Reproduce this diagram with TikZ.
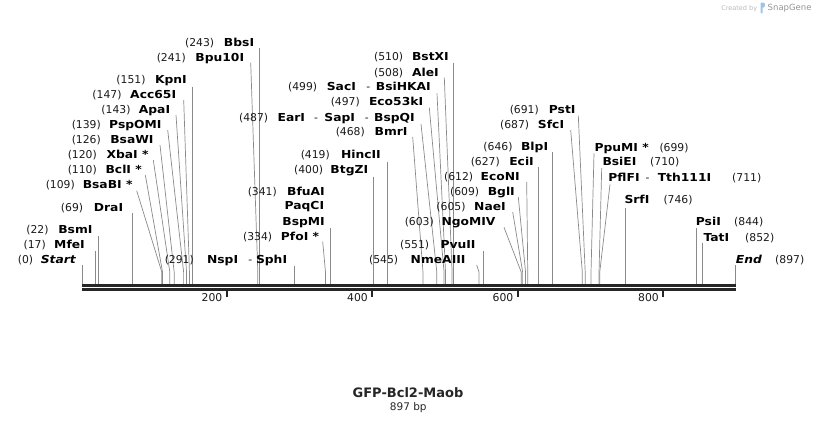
\documentclass[tikz,border=0pt]{standalone}
\usepackage{fontspec}
\setmainfont{DejaVu Sans}
\newfontfamily\namefont[FakeStretch=1.12]{DejaVu Sans}
\newfontfamily\numfont{DejaVu Sans}
\definecolor{siteGray}{HTML}{8A8A8A}
\definecolor{bbColor}{HTML}{262626}
\definecolor{numColor}{HTML}{1A1A1A}
\definecolor{sgBlue}{HTML}{9EC5E8}
\tikzset{
  numlbl/.style={font={\numfont\fontsize{10.8}{12}\selectfont}, text=numColor, inner sep=0pt},
  namelbl/.style={font={\namefont\bfseries\fontsize{11}{13}\selectfont}, text=black, inner sep=0pt},
  endlbl/.style={font={\namefont\bfseries\itshape\fontsize{11}{13}\selectfont}, text=black, inner sep=0pt},
  cutline/.style={draw=siteGray, line width=0.7pt},
  backbone/.style={draw=bbColor, line width=2.8pt},
  ticklne/.style={draw=bbColor, line width=1.8pt},
}
\newcommand\nuE[4]{\node[numlbl,anchor=base east] (#1) at (#2,#3+3.9) {#4};}
\newcommand\nuW[4]{\node[numlbl,anchor=base west] (#1) at (#2,#3+3.9) {#4};}
\newcommand\nuC[4]{\node[numlbl,anchor=base] (#1) at (#2,#3+3.9) {#4};}
\newcommand\nmE[4]{\node[namelbl,anchor=base east] (#1) at (#2,#3+3.9) {#4};}
\newcommand\nmW[4]{\node[namelbl,anchor=base west] (#1) at (#2,#3+3.9) {#4};}
\newcommand\nmC[4]{\node[namelbl,anchor=base] (#1) at (#2,#3+3.9) {#4};}
\newcommand\dsh[3]{\node[numlbl,anchor=base] (#1) at (#2,#3+3.9) {-};}
% slanted connector: id, position, anchor x, anchor y
\newcommand\rsite[4]{%
  \coordinate (s#1) at ({82.5+0.7275*#2},284);
  \coordinate (k#1) at ({82.5+0.7275*#2},272);
  \coordinate (a#1) at (#3,#4);
  \draw[cutline] (a#1) -- (k#1) -- (s#1);}
% vertical connector: id, position, top y
\newcommand\rsiteV[3]{%
  \coordinate (s#1) at ({82.5+0.7275*#2},284);
  \coordinate (a#1) at ({82.5+0.7275*#2},#3);
  \draw[cutline] (a#1) -- (s#1);}
\newcommand\tickmk[2]{%
  \coordinate (ta#1) at ({82.5+0.7275*#1-1.2},290.5);
  \coordinate (tb#1) at ({82.5+0.7275*#1-1.2},297.3);
  \draw[ticklne] (ta#1) -- (tb#1);
  \node[numlbl,anchor=base east] (tl#1) at ({82.5+0.7275*#1-5.5},301.1) {#2};}

\begin{document}
\begin{tikzpicture}[x=1pt,y=-1pt]
\useasboundingbox (0,0) rectangle (818,423);

% ---------- connectors ----------
\rsiteV{243}{243}{48}
\rsite{241}{241}{250.7}{62.7}
\rsiteV{151}{151}{86.7}
\rsite{147}{147}{183.7}{100}
\rsite{143}{143}{176}{115}
\rsite{139}{139}{167.7}{130}
\rsite{126}{126}{160}{145}
\rsite{120}{120}{153.3}{160}
\rsite{110}{110}{145.3}{175}
\rsite{109}{109}{136.7}{190.7}
\rsiteV{69}{69}{213}
\rsiteV{22}{22}{236}
\rsiteV{17}{17}{251}
\rsiteV{0}{0}{265}
\rsiteV{291}{291}{266}
\rsiteV{341}{341}{228}
\rsite{334}{334}{322.7}{241.7}
\rsiteV{400}{400}{176.7}
\rsiteV{419}{419}{161.7}
\rsite{468}{468}{412.7}{137}
\rsite{487}{487}{421}{124}
\rsite{497}{497}{429.3}{107.7}
\rsite{499}{499}{437}{93.3}
\rsite{508}{508}{444.3}{77.7}
\rsiteV{510}{510}{62.7}
\rsite{545}{545}{476.7}{265}
\rsiteV{551}{551}{251}
\rsite{603}{603}{504}{227.3}
\rsite{605}{605}{512.7}{212}
\rsite{609}{609}{518.3}{197}
\rsite{612}{612}{526.7}{182}
\rsiteV{627}{627}{167}
\rsiteV{646}{646}{152}
\rsite{687}{687}{570.7}{130}
\rsite{691}{691}{578.3}{115.7}
\rsite{699}{699}{594}{153.3}
\rsite{710}{710}{601.7}{168}
\rsite{711}{711}{610}{184.3}
\rsiteV{746}{746}{208}
\rsiteV{844}{844}{228.3}
\rsiteV{852}{852}{242.7}
\rsiteV{897}{897}{265}

% ---------- backbone ----------
\coordinate (bbL1) at (82.3,285.2);
\coordinate (bbR1) at (735.7,285.2);
\coordinate (bbL2) at (82.3,289.3);
\coordinate (bbR2) at (735.7,289.3);
\draw[backbone] (bbL1) -- (bbR1);
\draw[backbone] (bbL2) -- (bbR2);
\tickmk{200}{200}
\tickmk{400}{400}
\tickmk{600}{600}
\tickmk{800}{800}

% ---------- left-side labels ----------
\nuE{n243}{214.3}{42.5}{(243)}  \nmE{l243}{254.3}{42.5}{BbsI}
\nuE{n241}{186}{57.3}{(241)}    \nmE{l241}{244.3}{57.3}{Bpu10I}
\nuE{n151}{145.7}{80}{(151)}    \nmE{l151}{187}{80}{KpnI}
\nuE{n147}{121.7}{95}{(147)}    \nmE{l147}{176.3}{95}{Acc65I}
\nuE{n143}{130.7}{110}{(143)}   \nmE{l143}{170.3}{110}{ApaI}
\nuE{n139}{101}{125}{(139)}     \nmE{l139}{161.7}{125}{PspOMI}
\nuE{n126}{101}{140}{(126)}     \nmE{l126}{153.7}{140}{BsaWI}
\nuE{n120}{97}{155}{(120)}      \nmE{l120}{148.7}{155}{XbaI *}
\nuE{n110}{97}{169.3}{(110)}    \nmE{l110}{142}{169.3}{BclI *}
\nuE{n109}{75}{185}{(109)}      \nmE{l109}{132.7}{185}{BsaBI *}
\nuE{n69}{83.3}{207.3}{(69)}    \nmE{l69}{123.3}{207.3}{DraI}
\nuE{n22}{48.7}{230}{(22)}      \nmE{l22}{92.7}{230}{BsmI}
\nuE{n17}{46}{245}{(17)}        \nmE{l17}{85}{245}{MfeI}
\nuE{n0}{33.3}{259.3}{(0)}
\node[endlbl,anchor=base east] (l0) at (76,259.3+3.9) {Start};

\nuE{n291}{194}{260}{(291)}     \nmC{l291a}{222.6}{260}{NspI}
\dsh{d291}{250.2}{260}          \nmE{l291b}{287.3}{260}{SphI}

\nuE{n341}{277}{191.7}{(341)}   \nmE{l341a}{325}{191.7}{BfuAI}
\nmE{l341b}{324.3}{206}{PaqCI}
\nmE{l341c}{325}{221.7}{BspMI}
\nuE{n334}{272.3}{236.7}{(334)} \nmE{l334}{319.3}{236.7}{PfoI *}

\nuE{n400}{323.3}{170}{(400)}   \nmE{l400}{368.3}{170}{BtgZI}
\nuE{n419}{330}{155}{(419)}     \nmE{l419}{381}{155}{HincII}
\nuE{n468}{365}{131.7}{(468)}   \nmE{l468}{407.7}{131.7}{BmrI}
\nuE{n487}{268.3}{117.3}{(487)} \nmC{l487a}{291.3}{117.3}{EarI}
\dsh{d487a}{316}{117.3}         \nmC{l487b}{339.7}{117.3}{SapI}
\dsh{d487b}{366.7}{117.3}       \nmE{l487c}{415}{117.3}{BspQI}
\nuE{n497}{360}{101.7}{(497)}   \nmE{l497}{423.3}{101.7}{Eco53kI}
\nuE{n499}{317.3}{86.7}{(499)}  \nmC{l499a}{341.4}{86.7}{SacI}
\dsh{d499}{368.3}{86.7}         \nmE{l499b}{431}{86.7}{BsiHKAI}
\nuE{n508}{403.3}{72.3}{(508)}  \nmE{l508}{439}{72.3}{AleI}
\nuE{n510}{403.3}{56.7}{(510)}  \nmE{l510}{449}{56.7}{BstXI}

\nuE{n545}{398.3}{259.3}{(545)} \nmE{l545}{465.7}{259.3}{NmeAIII}
\nuE{n551}{429.3}{245}{(551)}   \nmE{l551}{475.7}{245}{PvuII}
\nuE{n603}{434}{221.7}{(603)}   \nmE{l603}{495.7}{221.7}{NgoMIV}
\nuE{n605}{465.7}{206.7}{(605)} \nmE{l605}{506}{206.7}{NaeI}
\nuE{n609}{479.3}{191.7}{(609)} \nmE{l609}{515}{191.7}{BglI}
\nuE{n612}{473.3}{176.7}{(612)} \nmE{l612}{520}{176.7}{EcoNI}
\nuE{n627}{500}{161.7}{(627)}   \nmE{l627}{534}{161.7}{EciI}
\nuE{n646}{512.7}{146.7}{(646)} \nmE{l646}{548.3}{146.7}{BlpI}
\nuE{n687}{529.3}{125}{(687)}   \nmE{l687}{564.3}{125}{SfcI}
\nuE{n691}{539}{110}{(691)}     \nmE{l691}{575.7}{110}{PstI}

% ---------- right-side labels ----------
\nmW{l699}{594.3}{147.3}{PpuMI *} \nuW{n699}{659.3}{147.3}{(699)}
\nmW{l710}{602.3}{161.7}{BsiEI}   \nuW{n710}{650}{161.7}{(710)}
\nmC{l711a}{624}{177.3}{PflFI}    \dsh{d711}{647.5}{177.3}
\nmC{l711b}{684.5}{177.3}{Tth111I} \nuC{n711}{746.7}{177.3}{(711)}
\nmW{l746}{624.3}{200}{SrfI}      \nuW{n746}{663.3}{200}{(746)}
\nmW{l844}{695.7}{221.7}{PsiI}    \nuW{n844}{734}{221.7}{(844)}
\nmW{l852}{703.3}{237.3}{TatI}    \nuW{n852}{745}{237.3}{(852)}
\node[endlbl,anchor=base west] (l897) at (735.7,260+3.9) {End};
\nuW{n897}{775}{260}{(897)}

% ---------- title ----------
\node[font={\bfseries\fontsize{13}{15}\selectfont}, text=bbColor, inner sep=0pt, anchor=base] (title) at (408,397.3) {GFP-Bcl2-Maob};
\node[font={\fontsize{10.5}{12}\selectfont}, text=bbColor, inner sep=0pt, anchor=base] (size) at (408.3,410.7) {897 bp};

% ---------- watermark ----------
\node[font={\fontsize{6.5}{8}\selectfont}, text=black!28, inner sep=0pt, anchor=base east] (wm1) at (757.3,10) {Created by};
\fill[sgBlue] (760.5,2.5) -- (763.3,2.5) .. controls (765.5,2.5) and (765.5,7.5) .. (763.3,7.5) -- (762.6,7.5) -- (762.6,13) -- (760.5,13) -- cycle;
\node[font={\fontsize{8.5}{10}\selectfont}, text=black!42, inner sep=0pt, anchor=base west] (wm2) at (767.5,10.8) {SnapGene};
\end{tikzpicture}
\end{document}
